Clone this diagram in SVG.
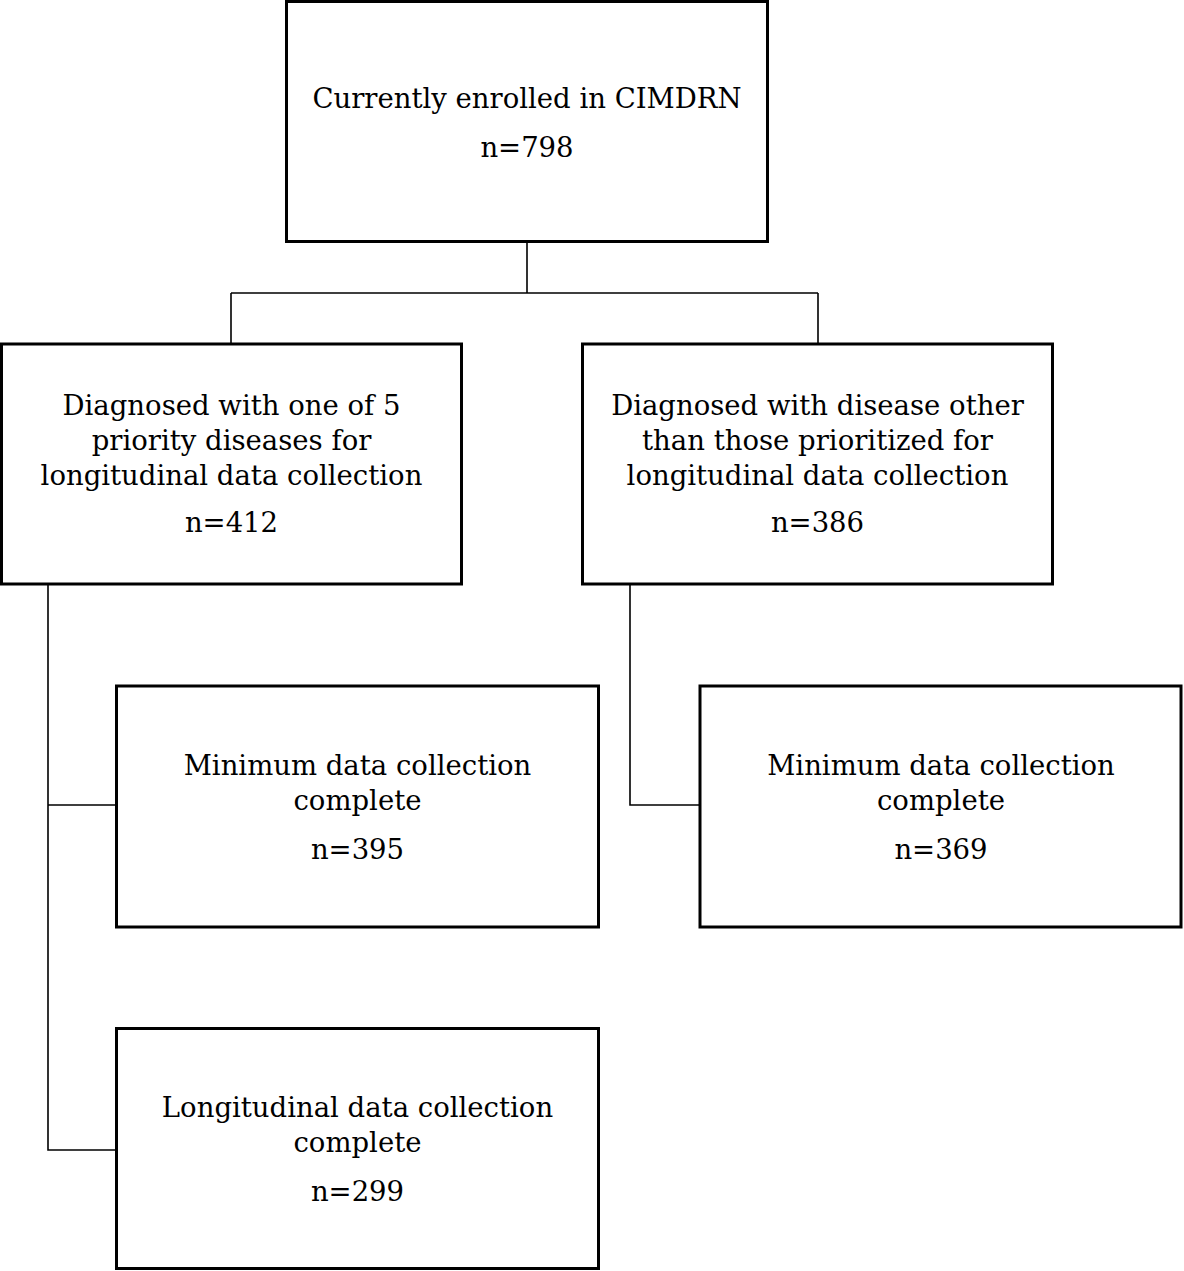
<svg xmlns="http://www.w3.org/2000/svg" width="1184" height="1271" viewBox="0 0 1184 1271">
<style>
.box{fill:#fff;stroke:#000;stroke-width:3}
.conn{fill:none;stroke:#000;stroke-width:1.6}
text{font-family:"DejaVu Serif","Liberation Serif",serif;font-size:27.5px;fill:#000;text-anchor:middle}
</style>
<rect width="1184" height="1271" fill="#fff"/>
<g id="connectors">
<path class="conn" d="M527 242V293M231 293H818M231 293V344M818 293V344"/>
<path class="conn" d="M48 584V1150H116M48 805H116"/>
<path class="conn" d="M630 584V805H700"/>
</g>
<g id="n1">
<rect class="box" x="286.5" y="1.5" width="481" height="240"/>
<text x="527" y="108">Currently enrolled in CIMDRN</text>
<text x="527" y="157">n=798</text>
</g>
<g id="n2">
<rect class="box" x="1.5" y="344" width="460" height="240"/>
<text x="231.5" y="415">Diagnosed with one of 5</text>
<text x="231.5" y="450">priority diseases for</text>
<text x="231.5" y="485">longitudinal data collection</text>
<text x="231.5" y="532">n=412</text>
</g>
<g id="n3">
<rect class="box" x="582.5" y="344" width="470" height="240"/>
<text x="817.5" y="415">Diagnosed with disease other</text>
<text x="817.5" y="450">than those prioritized for</text>
<text x="817.5" y="485">longitudinal data collection</text>
<text x="817.5" y="532">n=386</text>
</g>
<g id="n4">
<rect class="box" x="116.5" y="686" width="482" height="241"/>
<text x="357.5" y="775">Minimum data collection</text>
<text x="357.5" y="810">complete</text>
<text x="357.5" y="859">n=395</text>
</g>
<g id="n5">
<rect class="box" x="700" y="686" width="481" height="241"/>
<text x="941" y="775">Minimum data collection</text>
<text x="941" y="810">complete</text>
<text x="941" y="859">n=369</text>
</g>
<g id="n6">
<rect class="box" x="116.5" y="1028.5" width="482" height="240"/>
<text x="357.5" y="1117">Longitudinal data collection</text>
<text x="357.5" y="1152">complete</text>
<text x="357.5" y="1201">n=299</text>
</g>
</svg>
